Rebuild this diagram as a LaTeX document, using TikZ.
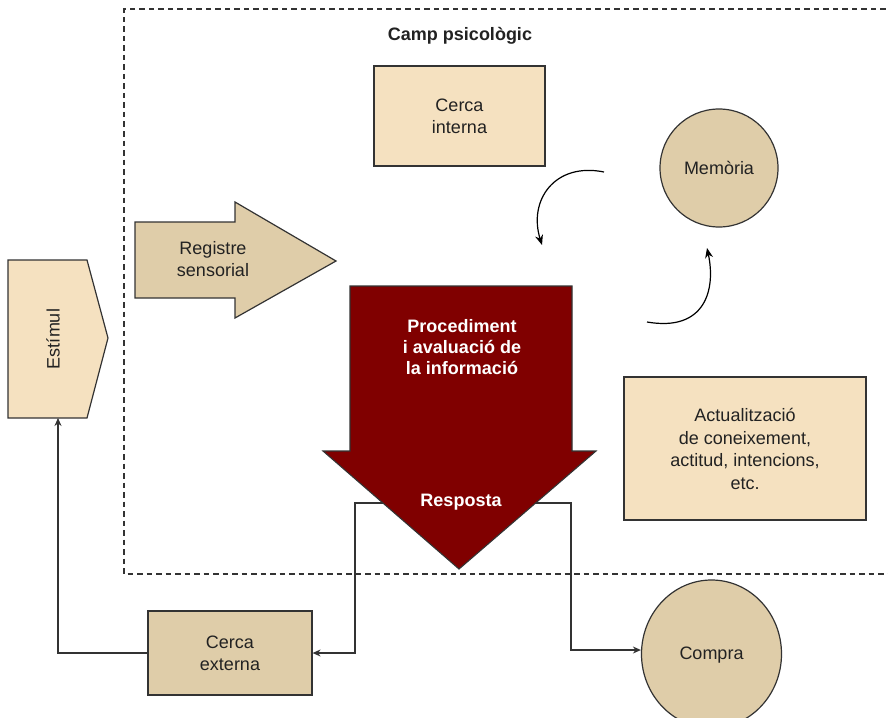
\documentclass[tikz,border=0pt]{standalone}
\usepackage{fontspec}
\setmainfont{Liberation Sans}
\usetikzlibrary{arrows.meta,shapes.geometric}
\definecolor{lightbeige}{HTML}{F5E1C0}
\definecolor{darkbeige}{HTML}{DFCDA9}
\definecolor{deepred}{HTML}{800000}
\definecolor{linegray}{HTML}{333333}
\definecolor{txt}{HTML}{222222}
\tikzset{
  shapeline/.style={draw=linegray, line width=1.2pt},
  lbl/.style={align=center, text=txt, font=\fontsize{18}{22}\selectfont, inner sep=0pt},
  wlbl/.style={align=center, text=white, font=\fontsize{18}{21}\selectfont\bfseries, inner sep=0pt},
  conn/.style={draw=linegray, line width=1.1pt, -{Stealth[length=8pt,width=7pt]}},
  curv/.style={draw=black, line width=1.2pt, -{Stealth[length=10pt,width=8pt]}},
}
\begin{document}
\begin{tikzpicture}[x=1pt,y=-1pt]
\useasboundingbox (0,0) rectangle (888,717);
% dashed field
\draw[linegray, line width=1.2pt, dash pattern=on 5.5pt off 4pt] (895,9) -- (124,9) -- (124,574) -- (895,574);
\node[font=\fontsize{18}{22}\selectfont\bfseries, text=txt] (camp) at (460,36) {Camp psicològic};

% Estimul
\path[shapeline, fill=lightbeige] (8,260) -- (87,260) -- (108,338) -- (87,418) -- (8,418) -- cycle;
\node[lbl, rotate=90] (estimul) at (53,339) {Estímul};
\coordinate (estbot) at (58,418);

% Registre sensorial
\path[shapeline, fill=darkbeige] (135,222) -- (235,222) -- (235,202) -- (336,261) -- (235,318) -- (235,298) -- (135,298) -- cycle;
\node[lbl] (registre) at (213,259) {Registre\\sensorial};

% Cerca interna
\node[shapeline, fill=lightbeige, minimum width=171pt, minimum height=100pt, inner sep=0pt] (cint) at (459.5,116) {};
\node[lbl] at (cint) {Cerca\\interna};

% Memoria
\node[shapeline, fill=darkbeige, circle, minimum size=118pt, inner sep=0pt] (mem) at (719,168) {};
\node[lbl] at (mem) {Memòria};

% Actualitzacio
\node[shapeline, fill=lightbeige, minimum width=242pt, minimum height=143pt, inner sep=0pt] (act) at (745,448.5) {};
\node[lbl, font=\fontsize{18}{22.5}\selectfont] at (745,449) {Actualització\\de coneixement,\\actitud, intencions,\\etc.};

% Cerca externa
\node[shapeline, fill=darkbeige, minimum width=164pt, minimum height=84pt, inner sep=0pt] (cext) at (230,653) {};
\node[lbl] at (cext) {Cerca\\externa};

% Compra
\node[shapeline, fill=darkbeige, ellipse, minimum width=140pt, minimum height=148pt, inner sep=0pt] (compra) at (711.5,654) {};
\node[lbl] at (711.5,655) {Compra};

% connectors behind red arrow
\coordinate (respL) at (420,503);
\coordinate (respR) at (500,503);
\draw[conn] (respL) -- (355,503) |- (cext.east);
\draw[conn] (respR) -- (571,503) |- ([yshift=4pt]compra.west);
\draw[conn] (cext.west) -| (estbot);

% red arrow
\path[draw=linegray, line width=1.1pt, fill=deepred] (350,286) -- (572,286) -- (572,451) -- (596,451) -- (459,569) -- (323,451) -- (350,451) -- cycle;
\node[wlbl] (proc) at (462,347) {Procediment\\i avaluació de\\la informació};
\node[wlbl] (resp) at (461,502) {Resposta};

% curved arrows
\coordinate (c1s) at (604,172);
\coordinate (c1e) at (542,245);
\coordinate (c2s) at (647,322);
\coordinate (c2e) at (707,248);
\draw[curv] (c1s) .. controls (555,162) and (528,200) .. (c1e);
\draw[curv] (c2s) .. controls (705,332) and (716,290) .. (c2e);
\end{tikzpicture}
\end{document}
